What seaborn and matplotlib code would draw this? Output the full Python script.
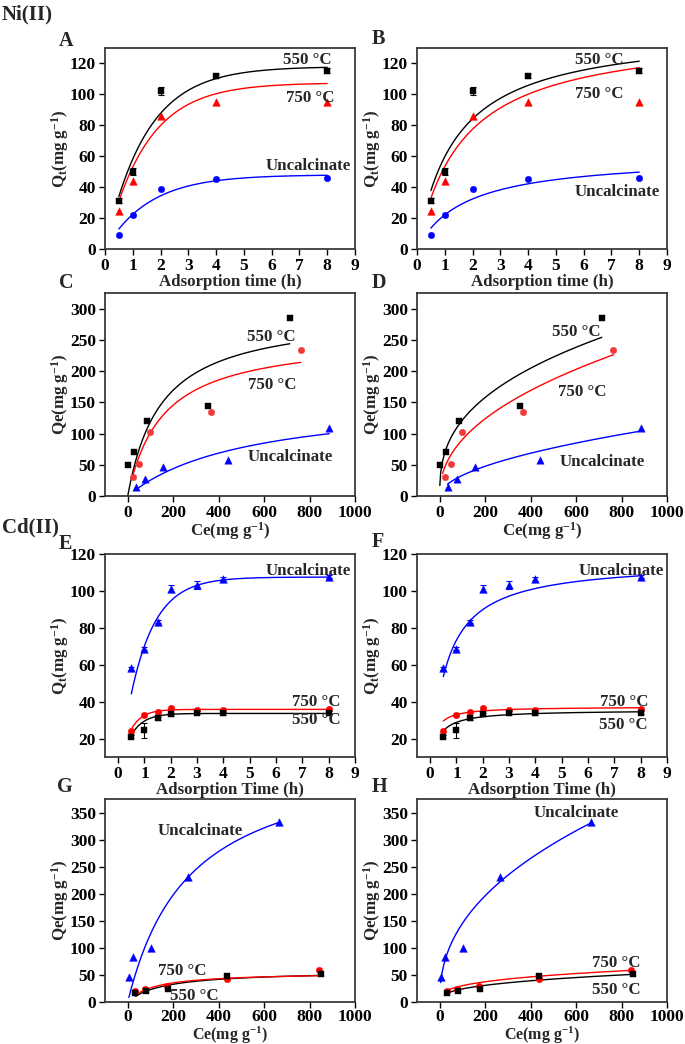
import numpy as np
import pandas as pd
import matplotlib
matplotlib.use("Agg")
import matplotlib.pyplot as plt
import seaborn as sns

# ---------------- data ----------------
# Ni(II) kinetics (panels A, B)
t_ni = [0.5, 1, 2, 4, 8]
ni_kin_550 = [31.2, 50.1, 102.4, 111.8, 115.3]
ni_kin_550_err = [1.5, 2.0, 2.5, 1.5, 1.5]
ni_kin_750 = [24.3, 43.7, 86.0, 94.8, 94.8]
ni_kin_unc = [9.2, 22.2, 38.7, 45.2, 45.6]

# Ni(II) isotherms (panels C, D)
ni_ce_550 = [3, 29, 83, 355, 713]
ni_qe_550 = [49.7, 70.0, 119.8, 144.4, 285.0]
ni_ce_750 = [22, 51, 100, 365, 762]
ni_qe_750 = [30.5, 51.3, 102.0, 133.7, 233.7]
ni_ce_unc = [36, 76, 156, 442, 887]
ni_qe_unc = [14.4, 27.3, 46.0, 58.3, 109.0]

# Cd(II) kinetics (panels E, F)
t_cd = [0.5, 1, 1.5, 2, 3, 4, 8]
cd_kin_unc = [58.2, 68.7, 83.3, 101.3, 103.1, 106.4, 107.6]
cd_kin_unc_err = [0.8, 0.8, 0.8, 2.0, 2.0, 1.0, 0.8]
cd_kin_750 = [24.2, 32.9, 34.2, 36.4, 35.3, 35.3, 36.0]
cd_kin_550 = [21.1, 24.5, 31.1, 33.1, 34.0, 33.6, 34.0]
cd_kin_550_err = [0.8, 4.0, 0.8, 0.8, 0.8, 0.8, 0.8]

# Cd(II) isotherms (panels G, H)
cd_ce_unc = [5, 21, 102, 267, 667]
cd_qe_unc = [46.5, 82.6, 99.8, 231.0, 332.0]
cd_ce_750 = [31, 78, 172, 435, 840]
cd_qe_750 = [21.0, 24.6, 30.0, 43.0, 59.8]
cd_ce_550 = [34, 80, 176, 435, 849]
cd_qe_550 = [17.0, 21.0, 24.8, 47.4, 51.1]

# fitted model parameters (estimated from the drawn fit curves)
pfo_ni = {"550": (118.0, 0.68), "750": (107.5, 0.68), "unc": (48.0, 0.63)}      # qe, k1
pso_ni = {"550": (142.5, 102.8), "750": (141.4, 85.7), "unc": (60.5, 34.8)}     # qe, h
lang_ni = {"550": (294.0, 0.0068), "750": (257.0, 0.00652), "unc": (159.0, 0.0019)}  # qm, KL
freu_ni = {"550": (21.7, 0.3745), "750": (11.4, 0.45), "unc": (2.95, 0.525)}   # KF, 1/n
pfo_cd = {"unc": (107.5, 1.06), "750": (35.8, 2.4), "550": (33.6, 2.1)}
pso_cd = {"unc": (116.1, 199.0), "750": (37.3, 282.0), "550": (35.5, 152.0)}
lang_cd = {"unc": (468.0, 0.00366), "750": (55.0, 0.009), "550": (58.0, 0.0065)}
freu_cd = {"unc": (19.7, 0.434), "750": (7.24, 0.31), "550": (4.85, 0.349)}

# curve x-ranges
rng_kin = (0.5, 8.0)
rng_ni_iso_C = {"550": (0.0, 713), "750": (20, 762), "unc": (32, 887)}
rng_ni_iso_D = {"550": (0.5, 713), "750": (13, 765), "unc": (34, 889)}
rng_cd_iso_G = {"unc": (5, 666), "750": (31, 839), "550": (34, 848)}
rng_cd_iso_H = {"unc": (4, 667), "750": (31, 842), "550": (34, 850)}


def pfo(t, p):
    qe, k = p
    return qe * (1 - np.exp(-k * t))


def pso(t, p):
    qe, h = p
    return t / (1.0 / h + t / qe)


def langmuir(c, p):
    qm, k = p
    return qm * k * c / (1 + k * c)


def freundlich(c, p):
    kf, ninv = p
    return kf * np.power(c, ninv)


# ---------------- style ----------------
sns.set_style("ticks")
plt.rcParams["font.family"] = ["Liberation Serif", "DejaVu Serif"]
plt.rcParams["font.weight"] = "bold"
plt.rcParams["axes.labelweight"] = "bold"
plt.rcParams["mathtext.fontset"] = "custom"
plt.rcParams["mathtext.rm"] = "Liberation Serif:bold"
plt.rcParams["mathtext.bf"] = "Liberation Serif:bold"
plt.rcParams["mathtext.it"] = "Liberation Serif:bold"
plt.rcParams["mathtext.default"] = "bf"

FS_TICK = 12.5
FS_LAB = 12.2
FS_ANN = 12.2
BLACK, RED, BLUE = "#000000", "#ff0000", "#0000ff"
RED_C = "#f03a3a"

fig = plt.figure(figsize=(6.85, 10.44), dpi=100)
W, H = 685.0, 1044.0


def make_ax(x0, x1, y0, y1):
    return fig.add_axes([x0 / W, 1 - y1 / H, (x1 - x0) / W, (y1 - y0) / H])


cols = [(105, 355), (417, 667)]
rows = [(48, 249), (293, 496), (554, 757), (799, 1002)]


def style_ax(ax, xpad=2.5):
    for s in ax.spines.values():
        s.set_color("#3a3a3a")
        s.set_linewidth(1.3)
    ax.tick_params(direction="out", length=4, width=1.0, labelsize=FS_TICK, colors="#000000", pad=2.5)
    ax.tick_params(axis="x", pad=xpad)
    for lab in ax.get_xticklabels() + ax.get_yticklabels():
        lab.set_fontweight("bold")


def scatter(ax, x, y, color, marker, s):
    df = pd.DataFrame({"x": x, "y": y})
    sns.scatterplot(data=df, x="x", y="y", ax=ax, color=color, marker=marker, s=s,
                    edgecolor=color, linewidth=0.3, zorder=3, legend=False)


def curve(ax, x0, x1, func, p, color):
    xs = np.linspace(x0, x1, 200)
    df = pd.DataFrame({"x": xs, "y": func(xs, p)})
    sns.lineplot(data=df, x="x", y="y", ax=ax, color=color, lw=1.0, zorder=2)


def ebar(ax, x, y, e, color):
    ax.errorbar(x, y, yerr=e, fmt="none", ecolor=color, elinewidth=0.8, capsize=2, capthick=0.8, zorder=3)


def label(ax, x, y, s):
    ax.text(x, y, s, fontsize=FS_ANN, fontweight="bold", ha="left", va="center", zorder=4)


ylab_t = r"Q$_t$(mg g$^{-1}$)"
ylab_e = r"Qe(mg g$^{-1}$)"
xlab_ce = r"Ce(mg g$^{-1}$)"


def set_labels(ax, xl, yl, xpad=0, xfs=FS_LAB):
    ax.set_xlabel(xl, fontsize=xfs, fontweight="bold", labelpad=xpad)
    ax.set_ylabel(yl, fontsize=FS_LAB, labelpad=-1)


# ---------- A, B: Ni kinetics ----------
for ci, (func, pars) in enumerate([(pfo, pfo_ni), (pso, pso_ni)]):
    ax = make_ax(*cols[ci], *rows[0])
    curve(ax, *rng_kin, func, pars["550"], BLACK)
    curve(ax, *rng_kin, func, pars["750"], RED)
    curve(ax, *rng_kin, func, pars["unc"], BLUE)
    ebar(ax, t_ni, ni_kin_550, ni_kin_550_err, BLACK)
    scatter(ax, t_ni, ni_kin_550, BLACK, "s", 20)
    scatter(ax, t_ni, ni_kin_750, RED, "^", 30)
    scatter(ax, t_ni, ni_kin_unc, BLUE, "o", 22)
    ax.set_xlim(0, 9)
    ax.set_ylim(0, 130)
    ax.set_xticks(range(0, 10))
    ax.set_yticks(range(0, 121, 20))
    set_labels(ax, "Adsorption time (h)", ylab_t, 0)
    if ci == 0:
        label(ax, 6.4, 122, "550 °C")
        label(ax, 6.5, 97.5, "750 °C")
        label(ax, 5.8, 53.5, "Uncalcinate")
    else:
        label(ax, 5.7, 122, "550 °C")
        label(ax, 5.7, 100.5, "750 °C")
        label(ax, 5.67, 37, "Uncalcinate")
    style_ax(ax)

# ---------- C, D: Ni isotherms ----------
for ci, (func, pars, rngs) in enumerate([(langmuir, lang_ni, rng_ni_iso_C),
                                          (freundlich, freu_ni, rng_ni_iso_D)]):
    ax = make_ax(*cols[ci], *rows[1])
    curve(ax, *rngs["550"], func, pars["550"], BLACK)
    curve(ax, *rngs["750"], func, pars["750"], RED)
    curve(ax, *rngs["unc"], func, pars["unc"], BLUE)
    scatter(ax, ni_ce_550, ni_qe_550, BLACK, "s", 20)
    scatter(ax, ni_ce_750, ni_qe_750, RED_C, "o", 22)
    scatter(ax, ni_ce_unc, ni_qe_unc, BLUE, "^", 28)
    ax.set_xlim(-100, 1000)
    ax.set_ylim(0, 325)
    ax.set_xticks(range(0, 1001, 200))
    ax.set_yticks(range(0, 301, 50))
    set_labels(ax, xlab_ce, ylab_e, -1)
    if ci == 0:
        label(ax, 524, 255, "550 °C")
        label(ax, 528, 178, "750 °C")
        label(ax, 528, 62, "Uncalcinate")
    else:
        label(ax, 495, 263, "550 °C")
        label(ax, 520, 167, "750 °C")
        label(ax, 526, 55, "Uncalcinate")
    style_ax(ax)

# ---------- E, F: Cd kinetics ----------
for ci, (func, pars) in enumerate([(pfo, pfo_cd), (pso, pso_cd)]):
    ax = make_ax(*cols[ci], *rows[2])
    curve(ax, *rng_kin, func, pars["unc"], BLUE)
    curve(ax, *rng_kin, func, pars["750"], RED)
    curve(ax, *rng_kin, func, pars["550"], BLACK)
    ebar(ax, t_cd, cd_kin_unc, cd_kin_unc_err, BLUE)
    ebar(ax, t_cd, cd_kin_550, cd_kin_550_err, BLACK)
    scatter(ax, t_cd, cd_kin_unc, BLUE, "^", 30)
    scatter(ax, t_cd, cd_kin_750, RED, "o", 22)
    scatter(ax, t_cd, cd_kin_550, BLACK, "s", 20)
    ax.set_xlim(-0.5, 9)
    ax.set_ylim(10, 120)
    ax.set_xticks(range(0, 10))
    ax.set_yticks(range(20, 121, 20))
    set_labels(ax, "Adsorption Time (h)", ylab_t, 0)
    if ci == 0:
        label(ax, 5.6, 110.7, "Uncalcinate")
        label(ax, 6.6, 40.0, "750 °C")
        label(ax, 6.6, 30.0, "550 °C")
    else:
        label(ax, 5.64, 110.7, "Uncalcinate")
        label(ax, 6.45, 40.0, "750 °C")
        label(ax, 6.4, 27.5, "550 °C")
    style_ax(ax)

# ---------- G, H: Cd isotherms ----------
for ci, (func, pars, rngs) in enumerate([(langmuir, lang_cd, rng_cd_iso_G),
                                          (freundlich, freu_cd, rng_cd_iso_H)]):
    ax = make_ax(*cols[ci], *rows[3])
    curve(ax, *rngs["unc"], func, pars["unc"], BLUE)
    curve(ax, *rngs["550"], func, pars["550"], BLACK)
    curve(ax, *rngs["750"], func, pars["750"], RED)
    scatter(ax, cd_ce_unc, cd_qe_unc, BLUE, "^", 30)
    scatter(ax, cd_ce_750, cd_qe_750, RED, "o", 22)
    scatter(ax, cd_ce_550, cd_qe_550, BLACK, "s", 20)
    ax.set_xlim(-100, 1000)
    ax.set_ylim(0, 375)
    ax.set_xticks(range(0, 1001, 200))
    ax.set_yticks(range(0, 351, 50))
    set_labels(ax, xlab_ce, ylab_e, -0.5, 11.5)
    if ci == 0:
        label(ax, 131, 315, "Uncalcinate")
        label(ax, 131, 57, "750 °C")
        label(ax, 188, 12, "550 °C")
    else:
        label(ax, 412, 350, "Uncalcinate")
        label(ax, 672, 72, "750 °C")
        label(ax, 668, 22, "550 °C")
    style_ax(ax, xpad=1.0)

# ---------- panel letters / group titles ----------
def ftext(x, y, s, size):
    fig.text(x / W, 1 - y / H, s, fontsize=size, fontweight="bold", ha="left", va="center")

ftext(2, 14, "Ni(II)", 15)
ftext(2, 527, "Cd(II)", 15)
for s, x, y in [("A", 59, 41), ("B", 372, 39), ("C", 59, 283), ("D", 372, 283),
                ("E", 59, 544), ("F", 372, 542), ("G", 57, 787), ("H", 372, 787)]:
    ftext(x, y, s, 14.5)

fig.savefig("out.png", dpi=100)
